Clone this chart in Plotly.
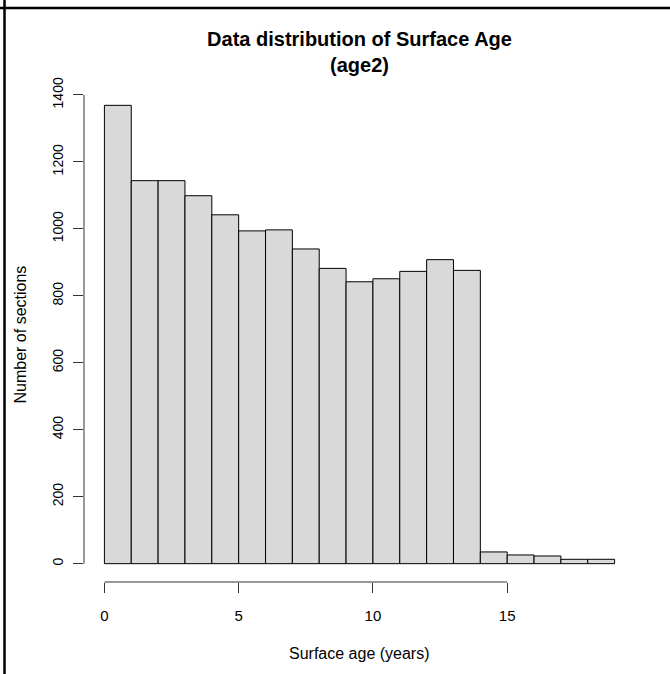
import plotly.graph_objects as go

# ---- data ----
bin_edges = list(range(0, 20))            # left edges of 1-year bins, 0..19
counts = [1369, 1144, 1144, 1099, 1042, 994, 997, 940, 882, 842,
          851, 873, 908, 876, 35, 26, 23, 13, 13]
x_ticks = [0, 5, 10, 15]
y_ticks = [0, 200, 400, 600, 800, 1000, 1200, 1400]
title_text = "<b>Data distribution of Surface Age<br>(age2)</b>"
x_title = "Surface age (years)"
y_title = "Number of sections"

# ---- layout geometry (R-like) ----
W, H = 670, 674
L, R, T, B = 84, 35, 87, 92
PW, PH = W - L - R, H - T - B

xmin, xmax = 0, len(counts)
xr = [xmin - 0.04 * (xmax - xmin), xmax + 0.04 * (xmax - xmin)]
ymax = max(counts)
yr = [-0.04 * ymax, ymax * 1.04]

def px2x(px):
    return (px - L) / PW

def px2y(py):
    return (H - B - py) / PH

def ypaper(v):
    return (v - yr[0]) / (yr[1] - yr[0])

def xpaper(v):
    return (v - xr[0]) / (xr[1] - xr[0])

FONT = "Liberation Sans, Arial, Helvetica, sans-serif"

centers = [e + 0.5 for e in bin_edges]
fig = go.Figure(go.Bar(
    x=centers, y=counts, width=1,
    marker=dict(color="#D9D9D9", line=dict(color="black", width=1)),
    hoverinfo="skip"
))

shapes = [
    # x axis line from first to last tick
    dict(type="line", xref="paper", yref="paper",
         x0=xpaper(x_ticks[0]), x1=xpaper(x_ticks[-1]), y0=0, y1=0,
         line=dict(color="#333333", width=1)),
    # y axis line from first to last tick
    dict(type="line", xref="paper", yref="paper",
         x0=0, x1=0, y0=ypaper(y_ticks[0]), y1=ypaper(y_ticks[-1]),
         line=dict(color="#333333", width=1)),
    # figure frame (top and left)
    dict(type="line", xref="paper", yref="paper",
         x0=px2x(0), x1=px2x(W), y0=px2y(8), y1=px2y(8),
         line=dict(color="black", width=2.5)),
    dict(type="line", xref="paper", yref="paper",
         x0=px2x(4.5), x1=px2x(4.5), y0=px2y(0), y1=px2y(H),
         line=dict(color="black", width=2.5)),
]

annotations = [
    dict(text=x_title, xref="paper", yref="paper", x=0.5, y=px2y(653),
         xanchor="center", yanchor="middle", showarrow=False,
         font=dict(family=FONT, size=16, color="black")),
    dict(text=y_title, xref="paper", yref="paper", x=px2x(20), y=0.5,
         xanchor="center", yanchor="middle", showarrow=False, textangle=-90,
         font=dict(family=FONT, size=16, color="black")),
]

fig.update_layout(
    width=W, height=H,
    margin=dict(l=L, r=R, t=T, b=B, pad=0),
    paper_bgcolor="white", plot_bgcolor="white",
    showlegend=False, bargap=0,
    title=dict(text=title_text, x=0.5, xref="paper", xanchor="center",
               y=1 - 46 / H, yref="container", yanchor="middle",
               font=dict(family=FONT, size=20, color="black")),
    shapes=shapes, annotations=annotations,
    font=dict(family=FONT, color="black"),
)
fig.update_xaxes(range=xr, tickvals=x_ticks, ticktext=[str(v) for v in x_ticks],
                 ticks="outside", ticklen=10, tickwidth=1, tickcolor="#333333",
                 showgrid=False, zeroline=False, showline=False,
                 tickfont=dict(family=FONT, size=15, color="black"),
                 ticklabelstandoff=10)
fig.update_yaxes(range=yr, tickvals=y_ticks, ticktext=[str(v) for v in y_ticks],
                 ticks="outside", ticklen=10, tickwidth=1, tickcolor="#333333",
                 showgrid=False, zeroline=False, showline=False, tickangle=-90,
                 tickfont=dict(family=FONT, size=14, color="black"),
                 ticklabelstandoff=4)

fig.write_html(
    "out.html",
    config={"displayModeBar": False, "staticPlot": True},
    post_script=(
        "document.documentElement.style.overflow='hidden';"
        "document.documentElement.style.margin='0';"
        "document.body.style.margin='0';document.body.style.padding='0';"
        "document.body.style.overflow='hidden';"
    ),
)
